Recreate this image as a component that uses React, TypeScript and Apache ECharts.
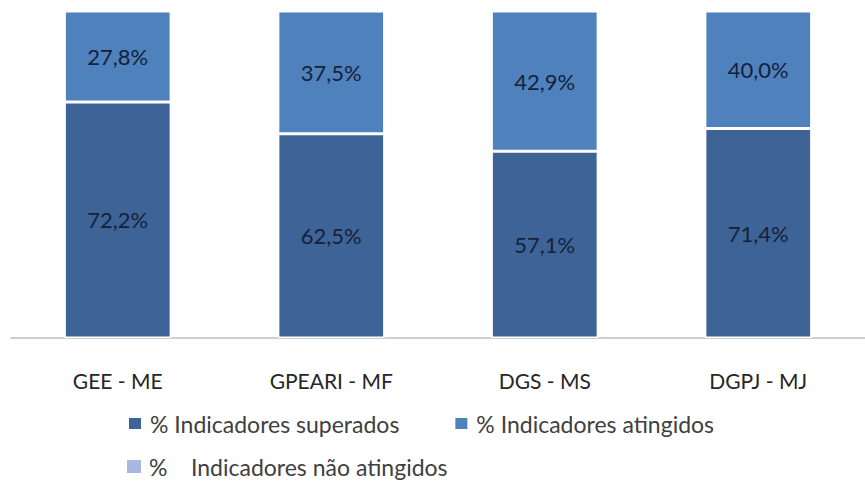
import React, { useEffect, useRef } from "react";
import * as echarts from "echarts";

const categories = ["GEE - ME", "GPEARI - MF", "DGS - MS", "DGPJ - MJ"];
const superados = [72.2, 62.5, 57.1, 71.4];
const atingidos = [27.8, 37.5, 42.9, 40.0];
const naoAtingidos = [0, 0, 0, 0];
const seriesNames = [
  "% Indicadores superados",
  "% Indicadores atingidos",
  "%    Indicadores não atingidos",
];
const colors = ["#3E6497", "#4F81BD", "#A7B9DE"];

const FONT = "Lato, 'Open Sans', sans-serif";

export default function App() {
  const ref = useRef<HTMLDivElement>(null);
  useEffect(() => {
    if (!ref.current) return;
    const chart = echarts.init(ref.current, undefined, { renderer: "svg" });
    const raw = [superados, atingidos, naoAtingidos];
    const totals = categories.map((_, i) => raw.reduce((s, a) => s + a[i], 0));
    const fmt = (v: number) => v.toFixed(1).replace(".", ",") + "%";
    const series = raw.map((arr, si) => ({
      name: seriesNames[si],
      type: "bar",
      stack: "total",
      barWidth: "50%",
      data: arr.map((v, i) => ({ value: (v / totals[i]) * 100, raw: v })),
      itemStyle: {
        color: colors[si],
        borderColor: "#ffffff",
        borderWidth: si === 2 ? 0 : 1.5,
      },
      label: {
        show: si !== 2,
        position: "inside",
        color: "#14213a",
        fontSize: 22,
        fontFamily: FONT,
        formatter: (p: any) => fmt(p.data.raw),
      },
    }));
    const legendText = {
      color: "#404040",
      fontSize: 23,
      fontFamily: FONT,
      padding: [0, 0, 0, 3],
    };
    chart.setOption({
      animation: false,
      grid: { left: 11, right: -12, top: 11, bottom: 143, containLabel: false },
      xAxis: {
        type: "category",
        data: categories,
        axisLine: { lineStyle: { color: "#BFBFBF", width: 1.5 } },
        axisTick: { show: false },
        axisLabel: {
          color: "#262626",
          fontSize: 21,
          fontFamily: FONT,
          margin: 32,
        },
      },
      yAxis: {
        type: "value",
        min: 0,
        max: 100,
        show: false,
        splitLine: { show: false },
      },
      legend: [
        {
          data: [seriesNames[0], seriesNames[1]],
          left: 122,
          top: 407,
          itemWidth: 14,
          itemHeight: 13,
          itemGap: 54,
          icon: "rect",
          textStyle: legendText,
        },
        {
          data: [seriesNames[2]],
          left: 122,
          top: 450,
          itemWidth: 14,
          itemHeight: 13,
          icon: "rect",
          textStyle: legendText,
        },
      ],
      series,
    });
    return () => chart.dispose();
  }, []);
  return <div ref={ref} style={{ width: 865, height: 481, position: "absolute", left: 0, top: 0 }} />;
}
